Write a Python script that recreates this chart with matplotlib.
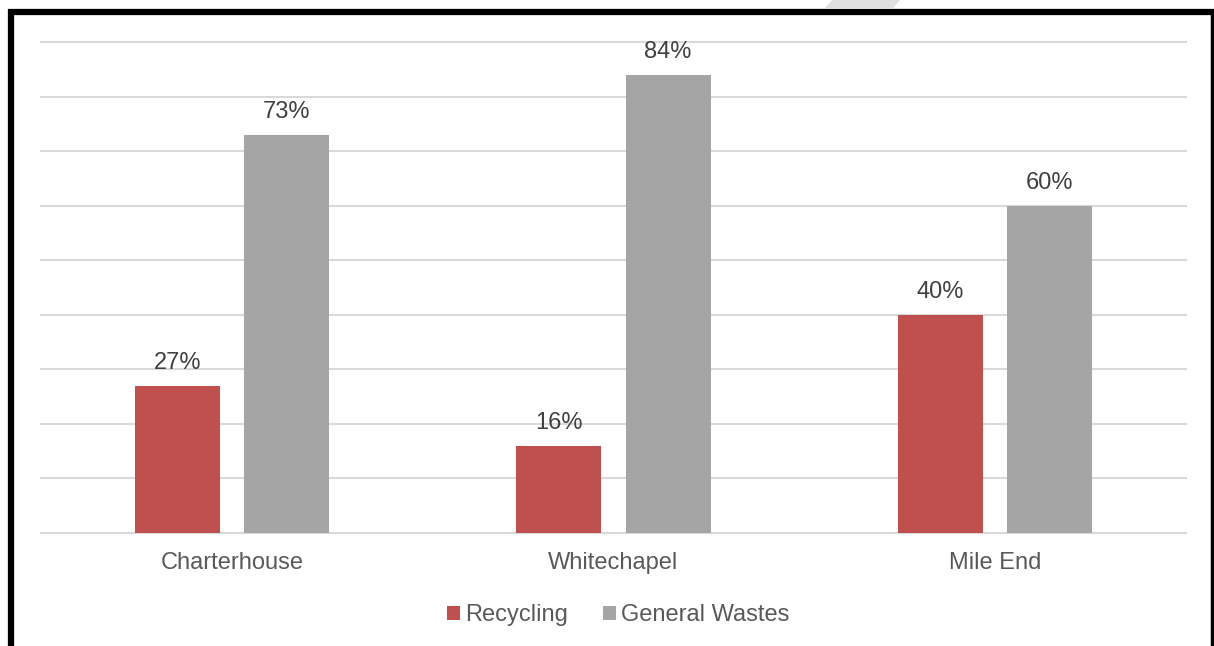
import matplotlib
matplotlib.use("Agg")
import matplotlib.pyplot as plt
from matplotlib.lines import Line2D
from matplotlib.patches import Polygon, Patch
import numpy as np

categories = ["Charterhouse", "Whitechapel", "Mile End"]
recycling = [27, 16, 40]
general = [73, 84, 60]
series_names = ["Recycling", "General Wastes"]
colors = ["#C0504D", "#A5A5A5"]

plt.rcParams['font.family'] = ['Liberation Sans', 'DejaVu Sans']

W, H = 1214, 646
fig = plt.figure(figsize=(W / 100, H / 100), dpi=100)
fig.patch.set_facecolor("white")

# axes placement in pixels
x0, x1 = 41, 1186
y_top, y_bot = 42, 533
ax = fig.add_axes([x0 / W, 1 - y_bot / H, (x1 - x0) / W, (y_bot - y_top) / H])

x = np.arange(len(categories))
bw = 0.223
off = 0.143
b1 = ax.bar(x - off, recycling, bw, color=colors[0], zorder=3)
b2 = ax.bar(x + off, general, bw, color=colors[1], zorder=3)

for bars, vals in ((b1, recycling), (b2, general)):
    for rect, v in zip(bars, vals):
        ax.annotate(f"{v}%", (rect.get_x() + rect.get_width() / 2, v),
                    xytext=(0, 8.5), textcoords="offset points",
                    ha="center", va="bottom", fontsize=17, color="#404040")

ax.set_xlim(-0.5, 2.5)
ax.set_ylim(0, 90)
ax.set_yticks(np.arange(0, 91, 10))
ax.yaxis.grid(True, color="#D9D9D9", linewidth=1.5, zorder=0)
for gl in ax.get_ygridlines():
    gl.set_clip_on(False)
ax.tick_params(axis="y", left=False, labelleft=False)
ax.tick_params(axis="x", bottom=False, labelsize=17, labelcolor="#595959", pad=10)
ax.set_xticks(x)
ax.set_xticklabels(categories)
for s in ("top", "right", "left"):
    ax.spines[s].set_visible(False)
ax.spines["bottom"].set_color("#D9D9D9")
ax.spines["bottom"].set_linewidth(1.5)
ax.set_facecolor("white")

handles = [Patch(facecolor=c, edgecolor="none") for c in colors]
fig.legend(handles, series_names, loc="center", bbox_to_anchor=(618 / W, 1 - 615 / H),
           ncol=2, frameon=False, fontsize=17, labelcolor="#595959",
           handlelength=0.55, handleheight=0.55, handletextpad=0.2, columnspacing=1.5)

# decorative frame
def fx(px): return px / W
def fy(py): return 1 - py / H
fig.add_artist(Polygon([[fx(832), fy(0)], [fx(900), fy(0)], [fx(893), fy(8)], [fx(825), fy(8)]],
                       closed=True, facecolor="#E0E0E0", edgecolor="none", transform=fig.transFigure))
fig.add_artist(Line2D([fx(11), fx(11)], [fy(9), fy(646)], color="black", linewidth=4.5,
                      transform=fig.transFigure, solid_capstyle="butt"))
fig.add_artist(Line2D([fx(8), fx(1214)], [fy(12), fy(12)], color="black", linewidth=4.5,
                      transform=fig.transFigure, solid_capstyle="butt"))
fig.add_artist(Line2D([fx(1212), fx(1212)], [fy(9), fy(646)], color="black", linewidth=2.5,
                      transform=fig.transFigure, solid_capstyle="butt"))

fig.savefig("out.png", dpi=100, facecolor="white")
